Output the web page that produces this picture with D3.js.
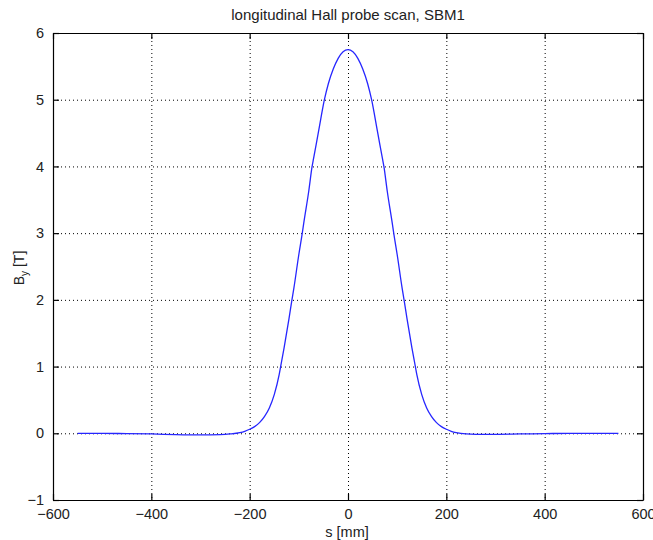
<!DOCTYPE html>
<html>
<head>
<meta charset="utf-8">
<script src="https://cdn.jsdelivr.net/npm/d3@7"></script>
<style>
  body { margin: 0; background: #fff; }
  text { font-family: "Liberation Sans Narrow", "Liberation Sans", Arial, sans-serif; fill: #222; }
</style>
</head>
<body>
<svg width="653" height="540"></svg>
<script>
(function (d3) {
  'use strict'

  // position along the magnet [mm]
  const s = [
    -550, -500, -450, -400, -350, -300, -260, -240, -220, -210, -200, -190, -180,
    -170, -160, -150, -140, -137, -130, -120, -114, -110, -100, -93, -90, -80,
    -73, -70, -60, -48, -40, -30, -20, -10, 0, 10, 20, 30, 40, 48, 60, 70, 73,
    80, 90, 93, 100, 110, 114, 120, 130, 137, 140, 150, 160, 170, 180, 190,
    200, 210, 220, 240, 260, 300, 350, 400, 450, 500, 550]

  // field By [T]
  const by = [
    0.0, 0.0, -0.005, -0.01, -0.02, -0.025, -0.02, -0.01, 0.01, 0.03, 0.06, 0.1, 0.16,
    0.25, 0.38, 0.58, 0.88, 1.0, 1.28, 1.72, 2.0, 2.18, 2.68, 3.0, 3.15, 3.62,
    4.0, 4.12, 4.52, 5.0, 5.24, 5.46, 5.62, 5.72, 5.75, 5.72, 5.62, 5.46, 5.24, 5.0, 4.52, 4.12, 4.0,
    3.62, 3.15, 3.0, 2.68, 2.18, 2.0, 1.72, 1.28, 1.0, 0.88, 0.58, 0.38, 0.25, 0.16, 0.1,
    0.06, 0.03, 0.01, -0.01, -0.015, -0.015, -0.01, -0.005, 0.0, 0.0, 0.0]

  const xTicks = [-600, -400, -200, 0, 200, 400, 600]
  const yTicks = [-1, 0, 1, 2, 3, 4, 5, 6]

  const left = 53, right = 643, top = 33, bottom = 500

  const x = d3.scaleLinear().domain([-600, 600]).range([left, right])
  const y = d3.scaleLinear().domain([-1, 6]).range([bottom, top])

  const svg = d3.select('svg')

  // dotted grid
  const grid = svg.append('g').attr('stroke', '#000').attr('stroke-width', 1)
    .attr('stroke-dasharray', '1,3')
  grid.selectAll('line.gx').data(xTicks.slice(1, -1)).enter().append('line')
    .attr('class', 'gx')
    .attr('x1', d => x(d) + 0.5).attr('x2', d => x(d) + 0.5)
    .attr('y1', top).attr('y2', bottom)
  grid.selectAll('line.gy').data(yTicks.slice(1, -1)).enter().append('line')
    .attr('class', 'gy')
    .attr('y1', d => y(d) + 0.5).attr('y2', d => y(d) + 0.5)
    .attr('x1', left).attr('x2', right)

  // the curve
  const line = d3.line()
    .x(function (d, i) { return x(s[i]) })
    .y(function (d) { return y(d) })
    .curve(d3.curveMonotoneX)

  svg.append('path')
    .datum(by)
    .attr('d', line)
    .attr('fill', 'none')
    .attr('stroke', '#2626ff')
    .attr('stroke-width', 1.3)

  // axes with inward ticks on all four sides
  const fmt = d => (d < 0 ? '\u2212' + Math.abs(d) : String(d))

  const xb = svg.append('g').attr('transform', 'translate(0,' + bottom + ')')
    .call(d3.axisBottom(x).tickValues(xTicks).tickSizeInner(-6).tickSizeOuter(0).tickPadding(9).tickFormat(fmt))
  const xt = svg.append('g').attr('transform', 'translate(0,' + top + ')')
    .call(d3.axisTop(x).tickValues(xTicks).tickSizeInner(-6).tickSizeOuter(0).tickFormat(''))
  const yl = svg.append('g').attr('transform', 'translate(' + left + ',0)')
    .call(d3.axisLeft(y).tickValues(yTicks).tickSizeInner(-6).tickSizeOuter(0).tickPadding(9).tickFormat(fmt))
  const yr = svg.append('g').attr('transform', 'translate(' + right + ',0)')
    .call(d3.axisRight(y).tickValues(yTicks).tickSizeInner(-6).tickSizeOuter(0).tickFormat(''))

  ;[xb, xt, yl, yr].forEach(function (g) {
    g.selectAll('path').attr('stroke', '#000').attr('stroke-width', 1.2)
    g.selectAll('line').attr('stroke', '#000').attr('stroke-width', 1.2)
    g.selectAll('text').style('font-size', '14.5px').attr('fill', '#222')
      .style('font-family', '"Liberation Sans Narrow", "Liberation Sans", Arial, sans-serif')
  })

  // labels
  svg.append('text').attr('x', 348).attr('y', 20).attr('text-anchor', 'middle')
    .style('font-size', '15px').text('longitudinal Hall probe scan, SBM1')

  svg.append('text').attr('x', 347).attr('y', 537).attr('text-anchor', 'middle')
    .style('font-size', '14.5px').text('s [mm]')

  const yLab = svg.append('text')
    .attr('transform', 'translate(24,268) rotate(-90)')
    .attr('text-anchor', 'middle').style('font-size', '14px')
  yLab.append('tspan').text('B')
  yLab.append('tspan').attr('dy', 4).style('font-size', '10px').text('y')
  yLab.append('tspan').attr('dy', -4).text(' [T]')
}(d3))
</script>
</body>
</html>
